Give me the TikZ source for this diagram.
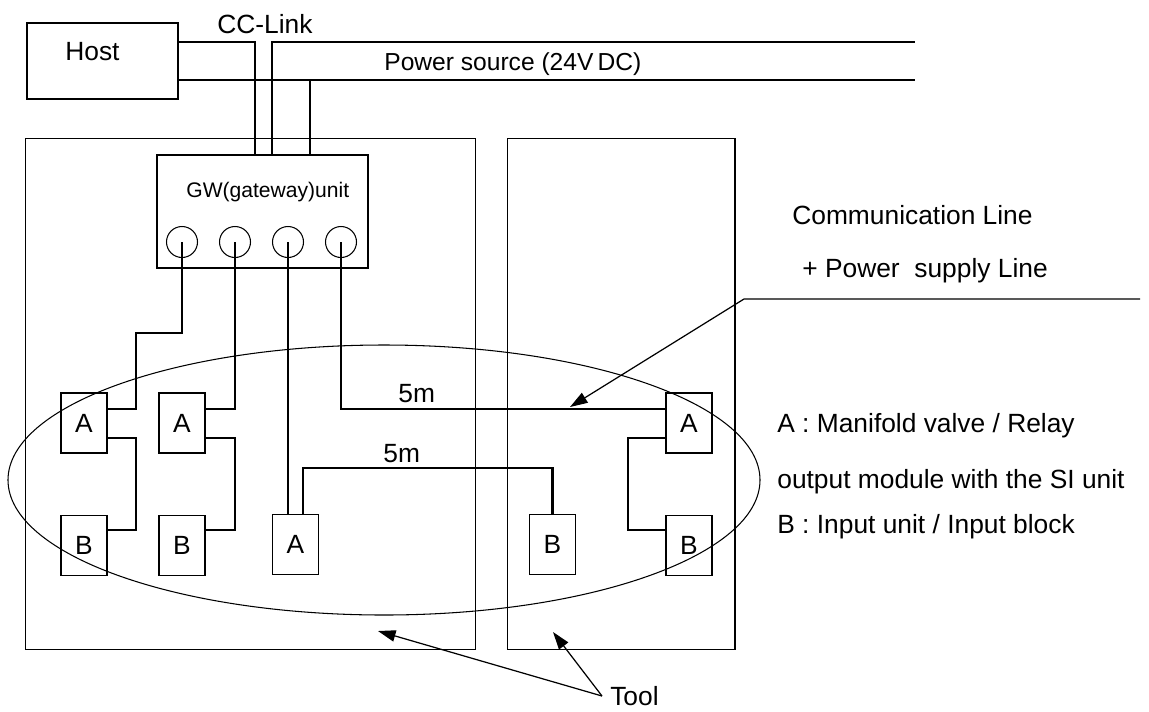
\documentclass[tikz,border=0pt]{standalone}
\usepackage{fontspec}
\setmainfont{Liberation Sans}
\usetikzlibrary{arrows.meta,positioning}

\begin{document}
\begin{tikzpicture}[x=0.02cm,y=-0.02cm,
      frame/.style={draw,line width=0.6pt,inner sep=0pt},
      wire/.style={line width=1.6pt},
      arr/.style={-{Triangle[length=10pt,width=6.5pt]},line width=0.7pt},
      txt/.style={inner sep=0pt,font=\fontsize{15}{18}\selectfont},
      unitbox/.style={frame,minimum width=0.92cm,minimum height=1.2cm,
                      font=\fontsize{15}{18}\selectfont},
      port/.style={circle,draw,line width=0.6pt,minimum size=0.62cm,inner sep=0pt}
    ]
    \useasboundingbox (0,0) rectangle (1149,711);

    \node[frame,minimum width=3.02cm,minimum height=1.52cm] (host) at (102.5,61) {};
    \node[txt,anchor=base west] (hosttxt) at (65,60) {Host};
    \node[frame,minimum width=9.02cm,minimum height=10.24cm] (toolL) at (250.5,394) {};
    \node[frame,minimum width=4.56cm,minimum height=10.24cm] (toolR) at (621,394) {};
    \node[frame,minimum width=4.22cm,minimum height=2.26cm] (gw) at (262.5,211.5) {};
    \node[anchor=base west,inner sep=0pt,font=\fontsize{12}{14}\selectfont] (gwtxt) at (186,197) {GW(gateway)unit};
    \foreach \i/\x in {1/182,2/235,3/288,4/341}
      \node[port] (p\i) at (\x,242) {};

    \node[txt,anchor=base west] (cclink) at (217,33) {CC-Link};
    \node[anchor=base west,inner sep=0pt,font=\fontsize{14}{17}\selectfont] (power) at (384,70) {Power source (24V\,DC)};
    \coordinate (ccend) at (915,42);
    \coordinate (pwend) at (915,80);

    \node[unitbox] (a1) at (84,423) {A};
    \node[unitbox,below=1.22cm of a1] (b1) {B};
    \node[unitbox] (a2) at (182,423) {A};
    \node[unitbox,below=1.22cm of a2] (b2) {B};
    \node[unitbox] (a3) at (295.5,544.5) {A};
    \node[unitbox] (b3) at (552.5,544.5) {B};
    \node[unitbox] (a4) at (689,423) {A};
    \node[unitbox,below=1.22cm of a4] (b4) {B};

    \draw[wire] (host.east |- 0,42) -| (gw.north -| 255,0);
    \draw[wire] (gw.north -| 272,0) |- (ccend);
    \draw[wire] (host.east |- 0,80) -- (pwend);
    \draw[wire] (gw.north -| 310,0) -- (310,80);

    \draw[wire] (p1.center) |- (136,333) |- (a1.east |- 0,409);
    \draw[wire] (a1.east |- 0,438) -| (136,530) -- (b1.east |- 0,530);
    \draw[wire] (p2.center) |- (a2.east |- 0,409);
    \draw[wire] (a2.east |- 0,438) -| (235,530) -- (b2.east |- 0,530);
    \draw[wire] (p3.center) -- (a3.north -| 288,0);
    \draw[wire] (a3.north -| 303,0) -- (303,468) -| (b3.north);
    \draw[wire] (p4.center) |- (a4.west |- 0,409);
    \draw[wire] (a4.west |- 0,438) -| (628,530) -- (b4.west |- 0,530);

    \node[txt,anchor=base west] (len1) at (398,402) {5m};
    \node[txt,anchor=base west] (len2) at (383,462) {5m};

    \draw[frame] (384,480) ellipse [x radius=376,y radius=135];

    \node[txt,anchor=base west] (comm) at (792,224) {Communication Line};
    \node[txt,anchor=base west] (supply) at (802,277) {+ Power~ supply Line};
    \coordinate (lineend) at (1140,299);
    \coordinate (bend) at (744,299);
    \coordinate (tipline) at (570,407);
    \draw[arr] (lineend) -- (bend) -- (tipline);

    \node[txt,anchor=base west] (legA) at (777,432) {A : Manifold valve / Relay};
    \node[txt,anchor=base west] (legA2) at (777,488) {output module with the SI unit};
    \node[txt,anchor=base west] (legB) at (777,533) {B : Input unit / Input block};

    \node[txt,inner xsep=4.5pt,anchor=west] (tool) at (602,696) {Tool};
    \coordinate (tipL) at (378,631);
    \coordinate (tipR) at (553,632);
    \draw[arr] (tool.west) -- (tipL);
    \draw[arr] (tool.west) -- (tipR);
  \end{tikzpicture}
\end{document}
